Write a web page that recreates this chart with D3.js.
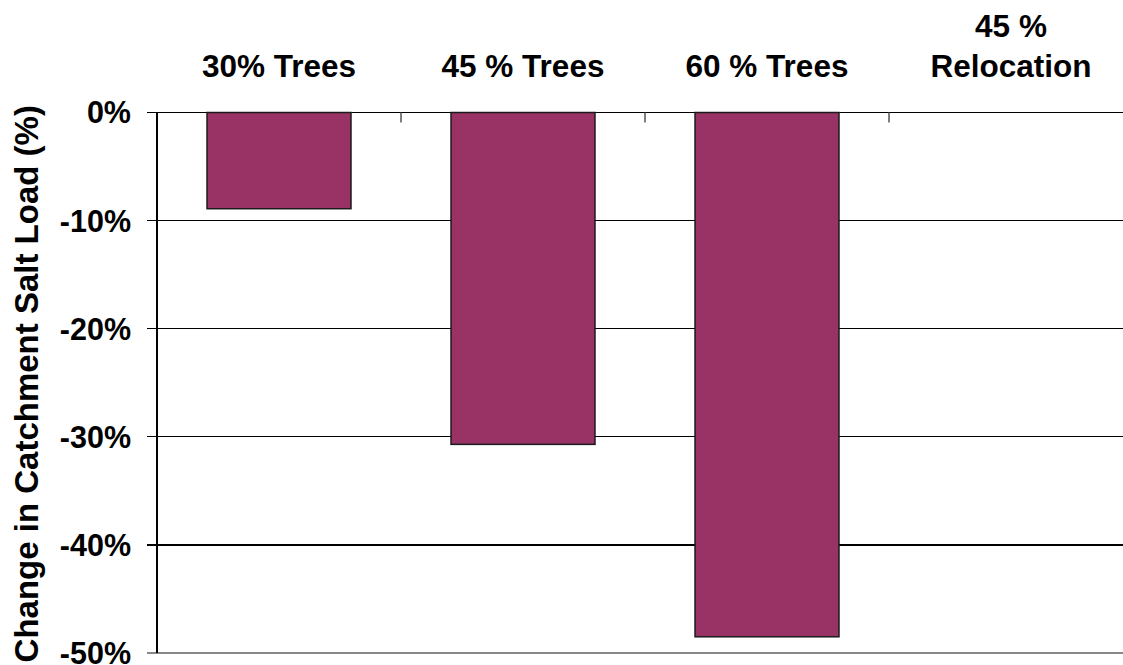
<!DOCTYPE html>
<html><head><meta charset="utf-8">
<script src="https://cdn.jsdelivr.net/npm/d3@7"></script>
<style>body{margin:0;background:#fff}svg{display:block}text{font-family:"Liberation Sans",Arial,sans-serif;font-weight:bold;fill:#000}</style>
</head><body><svg id="c" width="1123" height="665"></svg>
<script>
const categories = ["30% Trees", "45 % Trees", "60 % Trees", "45 %\nRelocation"];
const values = [-8.9, -30.7, -48.5, 0];
const yTicks = [0, -10, -20, -30, -40, -50];
const yTitle = "Change in Catchment Salt Load (%)";

const svg = d3.select("#c");
const pLeft = 157, pRight = 1133, pTop = 112.5, pBottom = 653;
const x = d3.scaleBand().domain(categories).range([pLeft, pRight]).paddingInner(0.41).paddingOuter(0.205);
const y = d3.scaleLinear().domain([0, -50]).range([pTop, pBottom]);

// gridlines
svg.append("g").selectAll("line").data(yTicks).join("line")
  .attr("x1", pLeft - 10).attr("x2", pRight)
  .attr("y1", d => y(d)).attr("y2", d => y(d))
  .attr("stroke", d => d === -50 ? "#888" : "#000").attr("stroke-width", d => d === -50 ? 2 : 1.2)
  .attr("shape-rendering", "crispEdges");

// y tick labels
svg.append("g").selectAll("text").data(yTicks).join("text")
  .attr("x", 131).attr("y", d => y(d)).attr("dy", "0.36em")
  .attr("text-anchor", "end").style("font-size", "30.5px")
  .text(d => d + "%");

// category tick marks on zero line
const step = x.step();
svg.append("g").selectAll("line").data(d3.range(1, categories.length)).join("line")
  .attr("x1", i => pLeft + i * step).attr("x2", i => pLeft + i * step)
  .attr("y1", y(0)).attr("y2", y(0) + 10)
  .attr("stroke", "#555").attr("stroke-width", 1.5);

// bars
svg.append("g").selectAll("rect").data(categories.map((c, i) => ({c, v: values[i]})).filter(d => d.v !== 0)).join("rect")
  .attr("x", d => x(d.c)).attr("width", x.bandwidth())
  .attr("y", d => y(Math.max(0, d.v))).attr("height", d => Math.abs(y(d.v) - y(0)))
  .attr("fill", "#993366").attr("stroke", "#1a1a1a").attr("stroke-width", 1.5);

// y axis line
svg.append("line").attr("x1", pLeft).attr("x2", pLeft).attr("y1", pTop).attr("y2", pBottom)
  .attr("stroke", "#000").attr("stroke-width", 1.2).attr("shape-rendering", "crispEdges");

// category labels on top
const lab = svg.append("g").selectAll("text").data(categories).join("text")
  .attr("text-anchor", "middle").style("font-size", "31.5px");
lab.each(function(d) {
  const lines = d.split("\n");
  const t = d3.select(this);
  lines.forEach((l, i) => {
    t.append("tspan").attr("x", x(d) + x.bandwidth() / 2)
      .attr("y", 77 - (lines.length - 1 - i) * 40).text(l);
  });
});

// y title
svg.append("text").attr("transform", `translate(38,${(pTop + pBottom) / 2 + 1}) rotate(-90)`)
  .attr("text-anchor", "middle").style("font-size", "33px").text(yTitle);
</script></body></html>
